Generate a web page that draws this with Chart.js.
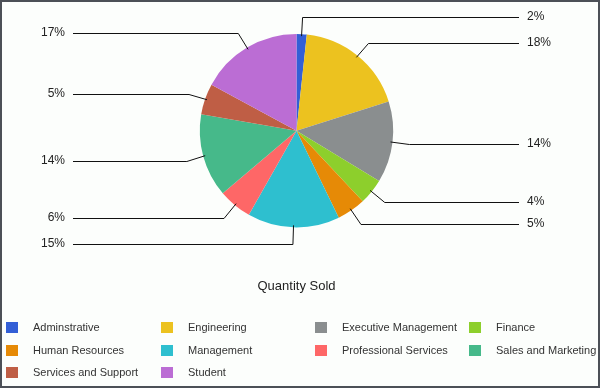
<!DOCTYPE html>
<html>
<head>
<meta charset="utf-8">
<script src="https://cdn.jsdelivr.net/npm/chart.js@4.4.1/dist/chart.umd.min.js"></script>
<style>
  html, body { margin: 0; padding: 0; background: #fcfefc; }
  #wrap { position: relative; width: 600px; height: 388px; }
  #frame { position: absolute; left: 0; top: 0; width: 600px; height: 388px; box-sizing: border-box; border: 2px solid #4c5057; pointer-events: none; }
  canvas { display: block; }
</style>
</head>
<body>
<div id="wrap">
  <canvas id="c" width="600" height="388"></canvas>
  <div id="frame"></div>
</div>
<script>
const categories = ["Adminstrative", "Engineering", "Executive Management", "Finance", "Human Resources", "Management", "Professional Services", "Sales and Marketing", "Services and Support", "Student"];
const quantitySold = [1.7, 18.4, 13.6, 4.3, 4.8, 15.4, 5.6, 13.9, 5.2, 17.1];
const sliceColors = ["#335fd6", "#ecc21f", "#8a8e8f", "#8dcf2c", "#e68a06", "#2ebfcf", "#fe6767", "#46b98a", "#bf5e45", "#bb6dd4"];
const chartTitle = "Quantity Sold";

const FONT = "'Liberation Sans', Arial, sans-serif";

const leaderLabels = {
  id: 'leaderLabels',
  afterDatasetsDraw(chart) {
    const ctx = chart.ctx;
    const meta = chart.getDatasetMeta(0);
    const data = chart.data.datasets[0].data;
    const total = data.reduce((a, b) => a + b, 0);
    ctx.save();
    ctx.strokeStyle = '#111';
    ctx.lineWidth = 1;
    ctx.fillStyle = '#222';
    ctx.font = '12px ' + FONT;
    ctx.textBaseline = 'middle';
    meta.data.forEach((arc, i) => {
      const p = arc.getProps(['x', 'y', 'startAngle', 'endAngle', 'outerRadius'], true);
      const mid = (p.startAngle + p.endAngle) / 2;
      const c = Math.cos(mid), s = Math.sin(mid);
      const x0 = p.x + c * (p.outerRadius - 2), y0 = p.y + s * (p.outerRadius - 2);
      const x1 = p.x + c * (p.outerRadius + 17), y1 = p.y + s * (p.outerRadius + 17);
      const right = c >= 0;
      const xe = right ? 519 : 73;
      const yy = Math.round(y1) + 0.5;
      ctx.beginPath();
      ctx.moveTo(x0, y0);
      ctx.lineTo(x1, yy);
      ctx.lineTo(xe, yy);
      ctx.stroke();
      const txt = Math.round(data[i] / total * 100) + '%';
      ctx.textAlign = right ? 'left' : 'right';
      ctx.fillText(txt, right ? 527 : 65, yy - 1);
    });
    ctx.restore();
  }
};

const gridLegend = {
  id: 'gridLegend',
  afterDraw(chart) {
    const ctx = chart.ctx;
    const colX = [6, 161, 315, 469];
    const rowY = [328, 351, 373];
    ctx.save();
    ctx.font = '11px ' + FONT;
    ctx.textBaseline = 'middle';
    ctx.textAlign = 'left';
    chart.data.labels.forEach((lab, i) => {
      const x = colX[i % 4];
      const y = rowY[Math.floor(i / 4)];
      ctx.fillStyle = chart.data.datasets[0].backgroundColor[i];
      ctx.fillRect(x, y - 6, 12, 11);
      ctx.fillStyle = '#333';
      ctx.fillText(lab, x + 27, y);
    });
    ctx.restore();
  }
};

new Chart(document.getElementById('c'), {
  type: 'pie',
  data: {
    labels: categories,
    datasets: [{
      data: quantitySold,
      backgroundColor: sliceColors,
      borderWidth: 0
    }]
  },
  options: {
    responsive: false,
    animation: false,
    layout: { padding: { left: 100, right: 107, top: 34, bottom: 94 } },
    plugins: {
      legend: { display: false },
      tooltip: { enabled: false },
      title: {
        display: true,
        position: 'bottom',
        text: chartTitle,
        color: '#222',
        font: { family: FONT, size: 13, weight: 'normal' },
        padding: { top: 51, bottom: 0 }
      }
    }
  },
  plugins: [leaderLabels, gridLegend]
});
</script>
</body>
</html>
